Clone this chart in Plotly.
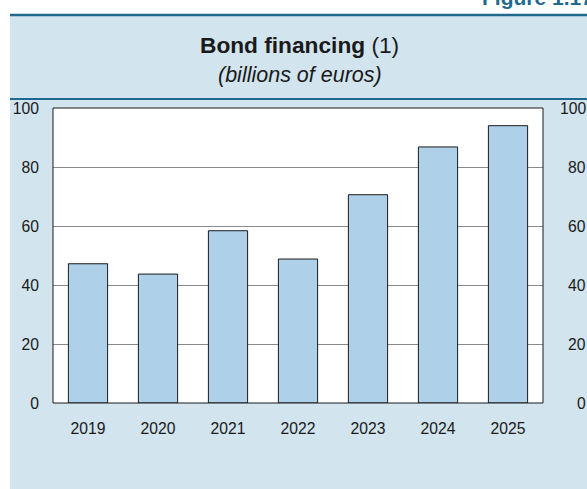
import plotly.graph_objects as go

# Bond financing, billions of euros
years = ["2019", "2020", "2021", "2022", "2023", "2024", "2025"]
bond_financing = [47.2, 43.7, 58.4, 48.8, 70.6, 86.8, 94.0]
y_ticks = [0, 20, 40, 60, 80, 100]

W, H = 587, 489
ML, MR, MT, MB = 53, 44, 108, 86
PW, PH = W - ML - MR, H - MT - MB

PANEL = "#d2e4ee"
TEAL = "#1f6990"
BAR = "#aed0e8"
FONT = "Liberation Sans, Arial, sans-serif"
TICK_SIZE = 15.7


def px_x(px):
    return (px - ML) / PW


def px_y(py):
    return (H - MB - py) / PH


fig = go.Figure()
fig.add_trace(go.Bar(
    x=years, y=bond_financing, width=0.56,
    marker=dict(color=BAR, line=dict(color="#1a1a1a", width=1)),
    hoverinfo="x+y",
))

shapes = [
    # white strips outside the shaded panel
    dict(type="rect", xref="paper", yref="paper", x0=px_x(0), x1=px_x(W), y0=px_y(0), y1=px_y(14),
         fillcolor="white", line=dict(width=0), layer="below"),
    dict(type="rect", xref="paper", yref="paper", x0=px_x(0), x1=px_x(10), y0=px_y(0), y1=px_y(H),
         fillcolor="white", line=dict(width=0), layer="below"),
    # header rules
    dict(type="line", xref="paper", yref="paper", x0=px_x(10), x1=px_x(W + 5), y0=px_y(15), y1=px_y(15),
         line=dict(color=TEAL, width=2.5)),
    dict(type="line", xref="paper", yref="paper", x0=px_x(10), x1=px_x(W + 5), y0=px_y(99), y1=px_y(99),
         line=dict(color=TEAL, width=2)),
    # plot frame
    dict(type="rect", xref="paper", yref="paper", x0=0, x1=1, y0=0, y1=1,
         line=dict(color="#1a1a1a", width=1), fillcolor="rgba(0,0,0,0)"),
]

annotations = [
    dict(text="Figure 1.17", xref="paper", yref="paper", x=px_x(480), y=px_y(11),
         xanchor="left", yanchor="bottom", showarrow=False,
         font=dict(family=FONT, size=21, color=TEAL, weight="bold")),
    dict(text="<b>Bond financing</b> (1)", xref="paper", yref="paper", x=px_x(299), y=px_y(45),
         xanchor="center", yanchor="middle", showarrow=False,
         font=dict(family=FONT, size=22.7, color="#1a1a1a")),
    dict(text="<i>(billions of euros)</i>", xref="paper", yref="paper", x=px_x(300), y=px_y(75),
         xanchor="center", yanchor="middle", showarrow=False,
         font=dict(family=FONT, size=21.5, color="#1a1a1a")),
]
# right-hand scale, right-aligned at the page edge
for t in y_ticks:
    annotations.append(dict(text=str(t), xref="paper", yref="y", x=px_x(588), y=t,
                            xanchor="right", yanchor="middle", showarrow=False,
                            font=dict(family=FONT, size=TICK_SIZE, color="#1a1a1a")))

fig.update_layout(
    width=W, height=H,
    margin=dict(l=ML, r=MR, t=MT, b=MB, pad=0),
    paper_bgcolor=PANEL, plot_bgcolor="white",
    showlegend=False, bargap=0.44,
    font=dict(family=FONT, size=TICK_SIZE, color="#1a1a1a"),
    shapes=shapes, annotations=annotations,
    xaxis=dict(showgrid=False, showline=False, zeroline=False, ticks="",
               ticklabelstandoff=14, tickfont=dict(size=TICK_SIZE)),
    yaxis=dict(range=[0, 100], tickvals=y_ticks, showgrid=True, gridcolor="#8a8a8a",
               gridwidth=1, zeroline=False, showline=False, ticks="",
               ticklabelstandoff=13, tickfont=dict(size=TICK_SIZE)),
)

fig.write_html("out.html")
